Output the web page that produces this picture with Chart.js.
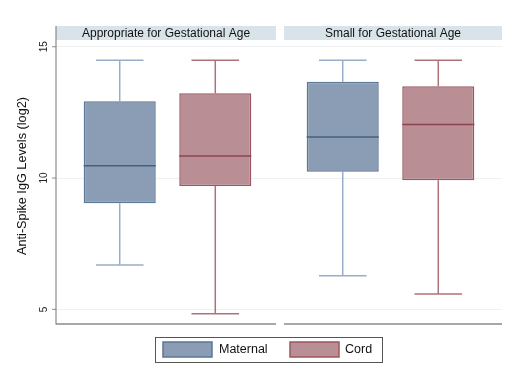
<!DOCTYPE html>
<html>
<head>
<meta charset="utf-8">
<script src="https://cdn.jsdelivr.net/npm/chart.js@4.4.1/dist/chart.umd.min.js"></script>
<style>
html,body{margin:0;padding:0;background:#fff;}
#wrap{width:515px;height:370px;position:relative;}
</style>
</head>
<body>
<div id="wrap"><canvas id="c" width="515" height="370"></canvas></div>
<script>
// ---- data ----
const categories = ['Appropriate for Gestational Age', 'Small for Gestational Age'];
const seriesNames = ['Maternal', 'Cord'];
const maternalMin    = [6.69, 6.28];
const maternalQ1     = [9.04, 10.24];
const maternalMedian = [10.47, 11.56];
const maternalQ3     = [12.93, 13.67];
const maternalMax    = [14.49, 14.49];
const cordMin        = [4.83, 5.58];
const cordQ1         = [9.70, 9.92];
const cordMedian     = [10.84, 12.04];
const cordQ3         = [13.23, 13.50];
const cordMax        = [14.49, 14.49];
const yTicks = [5, 10, 15];
const yTitle = 'Anti-Spike IgG Levels (log2)';

const FONT = '"Liberation Sans", Arial, Helvetica, sans-serif';
const styles = [
  {fill:'#8a9db4', border:'#5c7696', median:'#44617f', whisker:'#98aec8'},
  {fill:'#b98f95', border:'#9c5661', median:'#8c4350', whisker:'#b0727a'}
];

const stats = [
  {min:maternalMin, q1:maternalQ1, med:maternalMedian, q3:maternalQ3, max:maternalMax},
  {min:cordMin, q1:cordQ1, med:cordMedian, q3:cordQ3, max:cordMax}
];

const boxPlugin = {
  id:'boxextras',
  beforeDatasetsDraw(chart){
    const ctx = chart.ctx, y = chart.scales.y, x = chart.scales.x, ca = chart.chartArea;
    ctx.save();
    // header bands
    const n = categories.length;
    const catW = (ca.right - ca.left) / n;
    for (let i = 0; i < n; i++) {
      const cx = x.getPixelForValue(i);
      let l = cx - catW/2, r = cx + catW/2;
      if (i > 0) l += 5;
      if (i < n-1) r -= 3;
      ctx.fillStyle = '#d9e4ea';
      ctx.fillRect(l, 26, r - l, 14);
      ctx.fillStyle = '#111';
      ctx.font = '12px ' + FONT;
      ctx.textAlign = 'center';
      ctx.textBaseline = 'middle';
      ctx.fillText(categories[i], (l + r)/2, 33.5);
      // bottom axis segment
      ctx.strokeStyle = '#8a8a8a';
      ctx.lineWidth = 1.5;
      ctx.beginPath();
      ctx.moveTo(l, ca.bottom + 1);
      ctx.lineTo(r, ca.bottom + 1);
      ctx.stroke();
    }
    // y axis line
    ctx.strokeStyle = '#8a8a8a';
    ctx.lineWidth = 1.2;
    ctx.beginPath();
    ctx.moveTo(ca.left, 26);
    ctx.lineTo(ca.left, ca.bottom + 1.5);
    ctx.stroke();
    // tick marks + rotated tick labels
    ctx.fillStyle = '#222';
    ctx.font = '10px ' + FONT;
    ctx.textAlign = 'center';
    ctx.textBaseline = 'middle';
    yTicks.forEach(v => {
      const py = y.getPixelForValue(v);
      ctx.strokeStyle = '#8a8a8a';
      ctx.lineWidth = 1;
      ctx.beginPath();
      ctx.moveTo(ca.left - 4, py);
      ctx.lineTo(ca.left, py);
      ctx.stroke();
      ctx.save();
      ctx.translate(44, py);
      ctx.rotate(-Math.PI/2);
      ctx.fillText(String(v), 0, 0);
      ctx.restore();
    });
    // y title
    ctx.save();
    ctx.translate(22, 176);
    ctx.rotate(-Math.PI/2);
    ctx.font = '12.7px ' + FONT;
    ctx.fillStyle = '#111';
    ctx.fillText(yTitle, 0, 0);
    ctx.restore();
    // whiskers
    chart.data.datasets.forEach((ds, di) => {
      const meta = chart.getDatasetMeta(di);
      const s = stats[di], st = styles[di];
      meta.data.forEach((bar, i) => {
        const cx = bar.x, w = bar.width;
        ctx.strokeStyle = st.whisker;
        ctx.lineWidth = 1.5;
        ctx.beginPath();
        ctx.moveTo(cx, y.getPixelForValue(s.q3[i]));
        ctx.lineTo(cx, y.getPixelForValue(s.max[i]));
        ctx.moveTo(cx, y.getPixelForValue(s.q1[i]));
        ctx.lineTo(cx, y.getPixelForValue(s.min[i]));
        ctx.moveTo(cx - w*0.33, y.getPixelForValue(s.max[i]));
        ctx.lineTo(cx + w*0.33, y.getPixelForValue(s.max[i]));
        ctx.moveTo(cx - w*0.33, y.getPixelForValue(s.min[i]));
        ctx.lineTo(cx + w*0.33, y.getPixelForValue(s.min[i]));
        ctx.stroke();
      });
    });
    ctx.restore();
  },
  afterDatasetsDraw(chart){
    const ctx = chart.ctx, y = chart.scales.y;
    ctx.save();
    chart.data.datasets.forEach((ds, di) => {
      const meta = chart.getDatasetMeta(di);
      const s = stats[di], st = styles[di];
      meta.data.forEach((bar, i) => {
        const py = y.getPixelForValue(s.med[i]);
        ctx.strokeStyle = st.median;
        ctx.lineWidth = 1.5;
        ctx.beginPath();
        ctx.moveTo(bar.x - bar.width/2, py);
        ctx.lineTo(bar.x + bar.width/2, py);
        ctx.stroke();
      });
    });
    // legend
    const lx = 155, ly = 337, lw = 227, lh = 25;
    ctx.strokeStyle = '#555';
    ctx.lineWidth = 1;
    ctx.strokeRect(lx + 0.5, ly + 0.5, lw, lh);
    const items = [{x:163, tx:219}, {x:290, tx:345}];
    items.forEach((it, di) => {
      const st = styles[di];
      ctx.fillStyle = st.fill;
      ctx.fillRect(it.x, 342, 49, 15);
      ctx.strokeStyle = st.border;
      ctx.lineWidth = 1.5;
      ctx.strokeRect(it.x, 342, 49, 15);
      ctx.fillStyle = '#111';
      ctx.font = '12.5px ' + FONT;
      ctx.textAlign = 'left';
      ctx.textBaseline = 'middle';
      ctx.fillText(chart.data.datasets[di].label, it.tx, 350);
    });
    ctx.restore();
  }
};

new Chart(document.getElementById('c'), {
  type: 'bar',
  data: {
    labels: categories,
    datasets: [
      {label: seriesNames[0], data: maternalQ1.map((v,i)=>[v, maternalQ3[i]]),
       backgroundColor: styles[0].fill, borderColor: styles[0].border, borderWidth: 1.5, borderSkipped: false},
      {label: seriesNames[1], data: cordQ1.map((v,i)=>[v, cordQ3[i]]),
       backgroundColor: styles[1].fill, borderColor: styles[1].border, borderWidth: 1.5, borderSkipped: false}
    ]
  },
  options: {
    responsive: false,
    animation: false,
    categoryPercentage: 0.857,
    barPercentage: 0.754,
    layout: {padding: {left: 0, right: 13, top: 41, bottom: 47}},
    plugins: {legend: {display: false}, tooltip: {enabled: false}},
    scales: {
      x: {display: false},
      y: {
        min: 4.48, max: 15.22,
        afterBuildTicks(scale){ scale.ticks = yTicks.map(v => ({value: v})); },
        afterFit(scale){ scale.width = 56; },
        border: {display: false},
        grid: {color: '#eef1f4', drawTicks: false},
        ticks: {color: 'rgba(0,0,0,0)', font: {size: 10}}
      }
    }
  },
  plugins: [boxPlugin]
});
</script>
</body>
</html>
